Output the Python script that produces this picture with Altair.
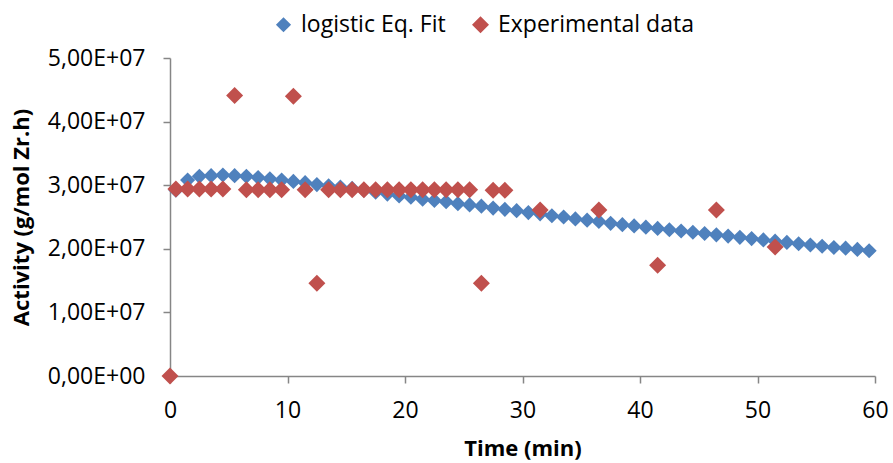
import altair as alt
import pandas as pd

# Logistic equation fit, one point per minute
fit_time = [0.5, 1.5, 2.5, 3.5, 4.5, 5.5, 6.5, 7.5, 8.5, 9.5,
            10.5, 11.5, 12.5, 13.5, 14.5, 15.5, 16.5, 17.5, 18.5, 19.5,
            20.5, 21.5, 22.5, 23.5, 24.5, 25.5, 26.5, 27.5, 28.5, 29.5,
            30.5, 31.5, 32.5, 33.5, 34.5, 35.5, 36.5, 37.5, 38.5, 39.5,
            40.5, 41.5, 42.5, 43.5, 44.5, 45.5, 46.5, 47.5, 48.5, 49.5,
            50.5, 51.5, 52.5, 53.5, 54.5, 55.5, 56.5, 57.5, 58.5, 59.5]
fit_activity = [2.92e7, 3.08e7, 3.14e7, 3.15e7, 3.16e7, 3.15e7, 3.14e7, 3.12e7, 3.10e7, 3.08e7,
                3.06e7, 3.04e7, 3.01e7, 2.99e7, 2.97e7, 2.95e7, 2.92e7, 2.89e7, 2.86e7, 2.83e7,
                2.81e7, 2.78e7, 2.76e7, 2.74e7, 2.71e7, 2.69e7, 2.67e7, 2.64e7, 2.62e7, 2.60e7,
                2.57e7, 2.55e7, 2.52e7, 2.50e7, 2.47e7, 2.45e7, 2.43e7, 2.40e7, 2.38e7, 2.36e7,
                2.34e7, 2.32e7, 2.30e7, 2.28e7, 2.26e7, 2.24e7, 2.22e7, 2.20e7, 2.18e7, 2.16e7,
                2.14e7, 2.12e7, 2.10e7, 2.08e7, 2.06e7, 2.04e7, 2.02e7, 2.01e7, 1.99e7, 1.97e7]

# Measured activity
exp_time = [0, 0.5, 1.5, 2.5, 3.5, 4.5, 5.5, 6.5, 7.5, 8.5, 9.5,
            10.5, 11.5, 12.5, 13.5, 14.5, 15.5, 16.5, 17.5, 18.5, 19.5,
            20.5, 21.5, 22.5, 23.5, 24.5, 25.5, 26.5, 27.5, 28.5,
            31.5, 36.5, 41.5, 46.5, 51.5]
exp_activity = [0, 2.94e7, 2.94e7, 2.94e7, 2.94e7, 2.94e7, 4.41e7, 2.93e7, 2.93e7, 2.93e7, 2.93e7,
                4.40e7, 2.93e7, 1.46e7, 2.93e7, 2.93e7, 2.93e7, 2.93e7, 2.93e7, 2.93e7, 2.93e7,
                2.93e7, 2.93e7, 2.93e7, 2.93e7, 2.93e7, 2.93e7, 1.46e7, 2.92e7, 2.92e7,
                2.61e7, 2.61e7, 1.74e7, 2.61e7, 2.03e7]

series_names = ["logistic Eq. Fit", "Experimental data"]
series_colors = ["#4F81BD", "#C0504D"]

df = pd.concat([
    pd.DataFrame({"time": fit_time, "activity": fit_activity, "series": series_names[0]}),
    pd.DataFrame({"time": exp_time, "activity": exp_activity, "series": series_names[1]}),
], ignore_index=True)

FONT = "Open Sans"
AXIS_GRAY = "#868686"

chart = alt.Chart(df).mark_point(shape="diamond", filled=True, opacity=1).encode(
    x=alt.X("time:Q", title="Time (min)",
            scale=alt.Scale(domain=[0, 60], nice=False),
            axis=alt.Axis(values=[0, 10, 20, 30, 40, 50, 60], grid=False, labelFlush=False)),
    y=alt.Y("activity:Q", title="Activity (g/mol Zr.h)",
            scale=alt.Scale(domain=[0, 5e7], nice=False),
            axis=alt.Axis(values=[0, 1e7, 2e7, 3e7, 4e7, 5e7], grid=False, labelFlush=False,
                          labelExpr="replace(replace(format(datum.value, '.2e'), '.', ','), 'e+', 'E+0')")),
    color=alt.Color("series:N", title=None,
                    scale=alt.Scale(domain=series_names, range=series_colors),
                    legend=alt.Legend(orient="none", direction="horizontal",
                                      legendX=102, legendY=-45,
                                      symbolType="diamond", symbolSize=200,
                                      labelFontSize=23, labelFont=FONT, labelColor="#000000",
                                      labelLimit=400,
                                      columnPadding=23, symbolOffset=0, labelOffset=6)),
    size=alt.Size("series:N", scale=alt.Scale(domain=series_names, range=[230, 290]), legend=None),
    order=alt.Order("order_key:Q"),
).transform_calculate(
    order_key="datum.series == 'logistic Eq. Fit' ? 0 : 1"
).properties(
    width=705, height=318,
    autosize=alt.AutoSizeParams(type="none"),
    padding={"left": 170, "top": 58, "right": 18, "bottom": 87},
).configure_view(
    stroke=None
).configure_axis(
    domainColor=AXIS_GRAY, tickColor=AXIS_GRAY, domainWidth=1.5, tickWidth=1.5,
    tickSize=7, labelFont=FONT, labelFontSize=23, labelColor="#000000",
    titleFont=FONT, titleFontSize=22, titleFontWeight="bold", titleColor="#000000",
).configure_axisX(
    labelPadding=16, titlePadding=16
).configure_axisY(
    labelPadding=18, titlePadding=14
)

chart.save("out.html", embed_options={"renderer": "svg", "actions": False})
